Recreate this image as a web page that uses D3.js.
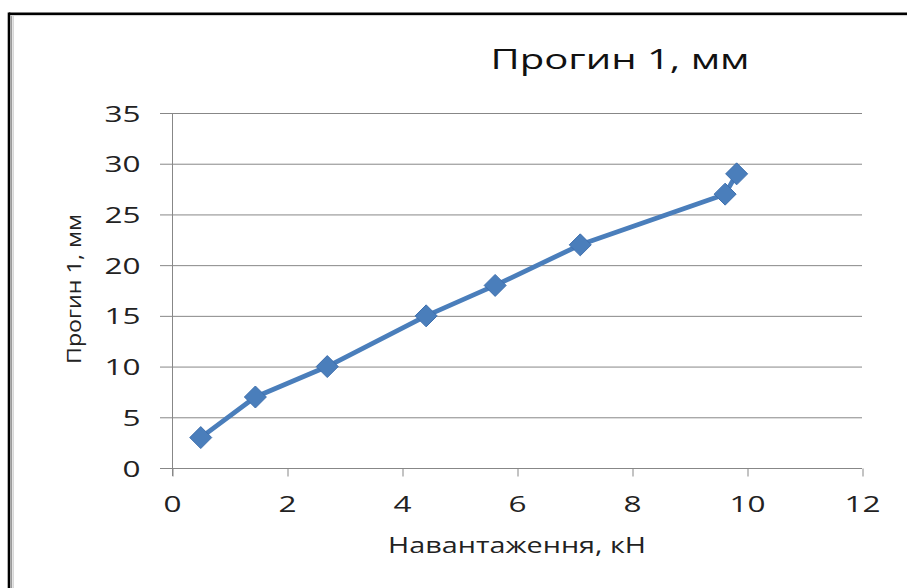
<!DOCTYPE html>
<html>
<head>
<meta charset="utf-8">
<script src="https://cdn.jsdelivr.net/npm/d3@7"></script>
<style>
  html, body { margin: 0; padding: 0; background: #ffffff; }
  svg { display: block; }
</style>
</head>
<body>
<svg id="chart" width="907" height="588"></svg>
<script>
// ---- data ----
const loadKN = [0.5, 1.45, 2.7, 4.42, 5.62, 7.1, 9.62, 9.82];
const deflectionMM = [3, 7, 10, 15, 18, 22, 27, 29];
const xTicks = [0, 2, 4, 6, 8, 10, 12];
const yTicks = [0, 5, 10, 15, 20, 25, 30, 35];
const chartTitle = "Прогин 1, мм";
const xTitle = "Навантаження, кН";
const yTitle = "Прогин 1, мм";

const FONT = "'Open Sans', 'Noto Sans', sans-serif";
const STRETCH = 1.4;
const svg = d3.select("#chart");

// frame (cropped chart border)
svg.append("line").attr("x1", 9).attr("x2", 907).attr("y1", 13.7).attr("y2", 13.7)
  .attr("stroke", "#000").attr("stroke-width", 2.6);
svg.append("line").attr("x1", 9).attr("x2", 9).attr("y1", 12.4).attr("y2", 588)
  .attr("stroke", "#000").attr("stroke-width", 2.6);
svg.append("line").attr("x1", 11.5).attr("x2", 11.5).attr("y1", 15).attr("y2", 588)
  .attr("stroke", "#9a9a9a").attr("stroke-width", 1.4);
svg.append("line").attr("x1", 13.3).attr("x2", 13.3).attr("y1", 15.5).attr("y2", 588)
  .attr("stroke", "#d4d4d4").attr("stroke-width", 1.2);
svg.append("line").attr("x1", 11).attr("x2", 907).attr("y1", 15.6).attr("y2", 15.6)
  .attr("stroke", "#d0d0d0").attr("stroke-width", 1);

const x = d3.scaleLinear().domain([0, 12]).range([172, 862]);
const y = d3.scaleLinear().domain([0, 35]).range([468, 113]);

// gridlines
svg.append("g").selectAll("line").data(yTicks).join("line")
  .attr("x1", 160).attr("x2", x(12))
  .attr("y1", d => y(d) + 0.5).attr("y2", d => y(d) + 0.5)
  .attr("stroke", "#878787").attr("stroke-width", 1);

// y axis
const yAxis = svg.append("g").attr("transform", `translate(${x(0) + 0.5},0)`)
  .call(d3.axisLeft(y).tickValues(yTicks).tickSize(0).tickPadding(32).tickFormat(d3.format("d")));
yAxis.select(".domain").remove();
svg.append("line").attr("x1", x(0) + 0.5).attr("x2", x(0) + 0.5).attr("y1", y(35)).attr("y2", y(0) + 8)
  .attr("stroke", "#878787").attr("stroke-width", 1);

// x axis ticks
const xAxis = svg.append("g").attr("transform", `translate(0,${y(0) + 0.5})`)
  .call(d3.axisBottom(x).tickValues(xTicks).tickSize(8).tickPadding(20).tickFormat(d3.format("d")));
xAxis.select(".domain").remove();
xAxis.selectAll(".tick line").attr("stroke", "#878787").attr("transform", "translate(0.5,0)");

[yAxis, xAxis].forEach(g => g.selectAll(".tick text")
  .attr("font-family", FONT).attr("font-size", 22.5).attr("fill", "#222"));
yAxis.selectAll(".tick text").attr("dy", "0.36em");
xAxis.selectAll(".tick text").attr("dy", "0.71em");

// line + markers
const pts = loadKN.map((v, i) => [v, deflectionMM[i]]);
svg.append("path").datum(pts)
  .attr("fill", "none").attr("stroke", "#4a7ebb").attr("stroke-width", 4.8)
  .attr("stroke-linejoin", "round")
  .attr("d", d3.line().x(d => x(d[0])).y(d => y(d[1])));
svg.append("g").selectAll("path").data(pts).join("path")
  .attr("transform", d => `translate(${x(d[0])},${y(d[1])})`)
  .attr("d", "M0,-11L11,0L0,11L-11,0Z")
  .attr("fill", "#4a7ebb").attr("stroke", "#3f70ae").attr("stroke-width", 1);

// titles
svg.append("text").attr("class", "ttl").attr("x", 620).attr("y", 69)
  .attr("text-anchor", "middle").attr("font-family", FONT).attr("font-size", 27)
  .attr("fill", "#111").attr("data-len", 259).text(chartTitle);
svg.append("text").attr("class", "ttl").attr("x", 517).attr("y", 553)
  .attr("text-anchor", "middle").attr("font-family", FONT).attr("font-size", 21)
  .attr("fill", "#222").attr("data-len", 258).text(xTitle);
svg.append("text").attr("class", "ttl")
  .attr("transform", "translate(81,289) rotate(-90)")
  .attr("text-anchor", "middle").attr("font-family", FONT).attr("font-size", 19.5)
  .attr("fill", "#222").attr("data-len", 150).text(yTitle);

// horizontal stretch to match the reference proportions
svg.selectAll(".tick text").each(function () {
  const len = this.getComputedTextLength();
  d3.select(this).attr("textLength", len * STRETCH).attr("lengthAdjust", "spacingAndGlyphs");
});
svg.selectAll(".ttl").each(function () {
  d3.select(this).attr("textLength", +this.getAttribute("data-len")).attr("lengthAdjust", "spacingAndGlyphs");
});
</script>
</body>
</html>
